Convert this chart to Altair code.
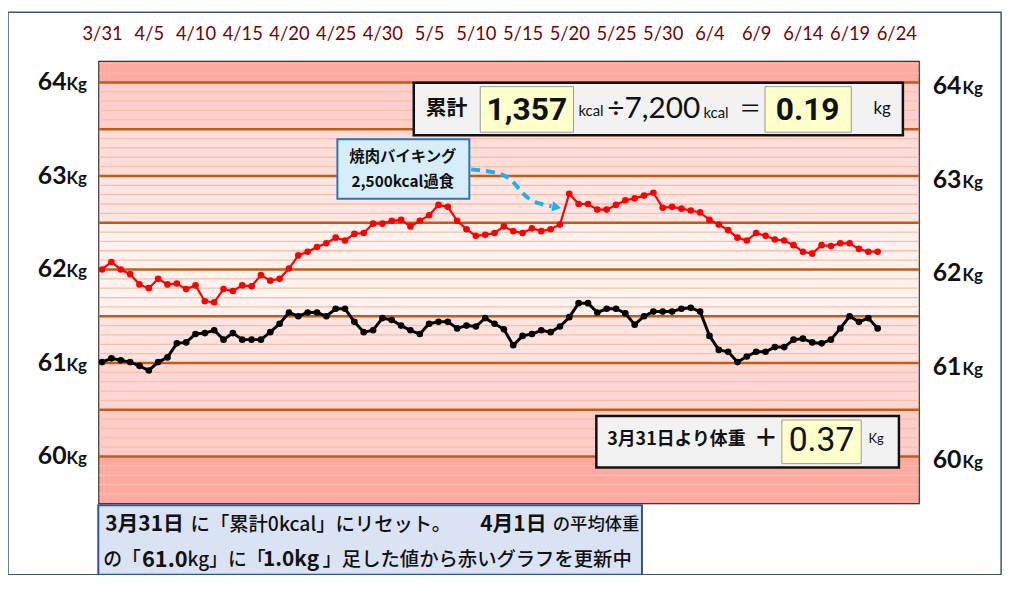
import altair as alt
import pandas as pd
import numpy as np

# ---------------- data ----------------
days = list(range(84))  # 0 = 3/31
red_kg = [62.00, 62.08, 62.00, 61.95, 61.84, 61.80, 61.90, 61.84, 61.85, 61.79,
          61.83, 61.66, 61.65, 61.79, 61.77, 61.83, 61.82, 61.94, 61.88, 61.90,
          62.01, 62.15, 62.19, 62.24, 62.28, 62.34, 62.31, 62.38, 62.39, 62.49,
          62.49, 62.52, 62.53, 62.46, 62.52, 62.58, 62.69, 62.67, 62.52, 62.43,
          62.36, 62.37, 62.39, 62.46, 62.41, 62.39, 62.44, 62.41, 62.43, 62.48,
          62.81, 62.70, 62.70, 62.64, 62.64, 62.69, 62.74, 62.76, 62.79, 62.82,
          62.66, 62.67, 62.65, 62.63, 62.61, 62.53, 62.48, 62.42, 62.34, 62.31,
          62.39, 62.36, 62.32, 62.31, 62.26, 62.19, 62.17, 62.26, 62.25, 62.28,
          62.28, 62.22, 62.19, 62.19]
black_kg = [61.01, 61.05, 61.03, 61.01, 60.97, 60.92, 61.01, 61.06, 61.21, 61.22,
            61.31, 61.32, 61.35, 61.25, 61.32, 61.25, 61.25, 61.25, 61.33, 61.42,
            61.54, 61.50, 61.54, 61.54, 61.50, 61.58, 61.58, 61.44, 61.33, 61.35,
            61.48, 61.46, 61.40, 61.35, 61.31, 61.42, 61.44, 61.44, 61.37, 61.40,
            61.39, 61.48, 61.42, 61.36, 61.19, 61.29, 61.31, 61.35, 61.33, 61.39,
            61.49, 61.64, 61.64, 61.54, 61.58, 61.58, 61.53, 61.41, 61.50, 61.55,
            61.55, 61.55, 61.58, 61.59, 61.55, 61.29, 61.14, 61.12, 61.01, 61.07,
            61.12, 61.12, 61.17, 61.17, 61.25, 61.26, 61.22, 61.21, 61.25, 61.37,
            61.50, 61.44, 61.48, 61.37]
tick_labels = ["3/31", "4/5", "4/10", "4/15", "4/20", "4/25", "4/30", "5/5", "5/10",
               "5/15", "5/20", "5/25", "5/30", "6/4", "6/9", "6/14", "6/19", "6/24"]
tick_days = [i * 5 for i in range(len(tick_labels))]
y_labels = [60, 61, 62, 63, 64]
band_lo = [64.0, 63.5, 63.0, 62.5, 62.0, 61.5, 61.0, 60.5, 60.0, 59.5]
band_hi = [64.22, 64.0, 63.5, 63.0, 62.5, 62.0, 61.5, 61.0, 60.5, 60.0]
band_col = ["#fea9a2", "#fecfcc", "#fedcda", "#ffe6e4", "#fff1ef",
            "#fff1ef", "#fee3e1", "#fed7d4", "#fecdc9", "#fea9a2"]
thick_grid = [60.0, 60.5, 61.0, 61.5, 62.0, 62.5, 63.0, 63.5, 64.0]
thin_grid = [round(v, 1) for v in np.arange(59.6, 64.21, 0.1) if abs(v * 2 - round(v * 2)) > 0.01]
arrow_day = [39.5, 42.4, 43.8, 44.6, 45.5, 46.8, 48.1]
arrow_kg = [63.07, 63.04, 62.97, 62.86, 62.76, 62.70, 62.675]

W, H = 826, 445
XS = alt.Scale(domain=[-0.3, 87.4], nice=False, zero=False)
YS = alt.Scale(domain=[59.5, 64.22], nice=False, zero=False)
FONT = "Lato, Noto Sans CJK JP"
JP = "Noto Sans CJK JP"
NARROW = "Liberation Sans Narrow, Roboto"

df = pd.DataFrame({"day": days, "red": red_kg, "black": black_kg})
bands = pd.DataFrame({"lo": band_lo, "hi": band_hi, "c": band_col})
one = alt.Data(values=[{"a": 1}])

band_layer = alt.Chart(bands).mark_rect().encode(
    x=alt.value(0), x2=alt.value(W),
    y=alt.Y("lo:Q", scale=YS, axis=None), y2="hi:Q",
    color=alt.Color("c:N", scale=None, legend=None))
thin_layer = alt.Chart(pd.DataFrame({"g": thin_grid})).mark_rule(
    color="#f6c0a6", strokeWidth=1.3).encode(
    x=alt.value(0), x2=alt.value(W), y=alt.Y("g:Q", scale=YS, axis=None))
thick_layer = alt.Chart(pd.DataFrame({"g": thick_grid})).mark_rule(
    color="#c55a11", strokeWidth=2.5).encode(
    x=alt.value(0), x2=alt.value(W), y=alt.Y("g:Q", scale=YS, axis=None))

label_expr = "[" + ",".join('"%s"' % t for t in tick_labels) + "][round(datum.value/5)]"
xaxis = alt.Axis(orient="top", values=tick_days, labelExpr=label_expr, domain=False,
                 ticks=False, tickSize=0, grid=False, labelPadding=19, labelFontSize=18.5,
                 labelColor="#780000", labelFont="Lato", title=None, labelFlush=False)

black_layer = alt.Chart(df).mark_line(
    color="black", strokeWidth=3,
    point=alt.OverlayMarkDef(color="black", size=45, filled=True)).encode(
    x=alt.X("day:Q", scale=XS, axis=xaxis), y=alt.Y("black:Q", scale=YS, axis=None))
red_layer = alt.Chart(df).mark_line(
    color="#ff0000", strokeWidth=2.2,
    point=alt.OverlayMarkDef(color="#ff0000", size=45, filled=True)).encode(
    x=alt.X("day:Q", scale=XS), y=alt.Y("red:Q", scale=YS, axis=None))

# y labels (left and right) through the y scale
yl = pd.DataFrame({"v": y_labels, "t": [str(v) for v in y_labels]})
def ylab(xpix, align, field_text, size, dy):
    return alt.Chart(yl).mark_text(align=align, baseline="alphabetic", fontSize=size,
                                   fontWeight="bold", font="Lato", color="#111",
                                   dy=dy).encode(
        x=alt.value(xpix), y=alt.Y("v:Q", scale=YS, axis=None), text=field_text)
ylabels = [
    ylab(-33, "right", "t:N", 25, 8),
    alt.Chart(yl).mark_text(align="left", baseline="alphabetic", fontSize=17,
                            fontWeight="bold", font="Lato", color="#111", dy=8,
                            text="Kg").encode(x=alt.value(-33), y=alt.Y("v:Q", scale=YS, axis=None)),
    ylab(840, "left", "t:N", 25, 12),
    alt.Chart(yl).mark_text(align="left", baseline="alphabetic", fontSize=17,
                            fontWeight="bold", font="Lato", color="#111", dy=12,
                            text="Kg").encode(x=alt.value(870), y=alt.Y("v:Q", scale=YS, axis=None)),
]

def box(x1, y1, x2, y2, fill, stroke, sw):
    return alt.Chart(one).mark_rect(fill=fill, stroke=stroke, strokeWidth=sw).encode(
        x=alt.value(x1), x2=alt.value(x2), y=alt.value(y1), y2=alt.value(y2))

def txt(s, x, y, size, align="center", weight="normal", font=FONT, color="#111", baseline="middle"):
    return alt.Chart(one).mark_text(text=s, fontSize=size, align=align, fontWeight=weight,
                                    font=font, color=color, baseline=baseline).encode(
        x=alt.value(x), y=alt.value(y))

deco = []
# outer frame
deco.append(box(-92, -50, 909, 517, "transparent", "#44546a", 1.5))
# top-right summary box
deco += [
    box(317, 21, 810, 74, "#f2f2f2", "#111", 2.5),
    box(384, 25, 478, 71, "#ffffcc", "#999", 1),
    box(671, 25, 758, 71, "#ffffcc", "#999", 1),
    txt("累計", 350, 48, 21, weight="bold", font=JP),
    txt("1,357", 431, 49, 32, weight="bold", font=NARROW),
    txt("kcal", 483, 55, 15, align="left", baseline="alphabetic"),
    txt("÷7,200", 512, 57, 30, align="left", baseline="alphabetic"),
    txt("kcal", 609, 57, 15, align="left", baseline="alphabetic"),
    txt("＝", 656, 48, 22, font=JP),
    txt("0.19", 714, 49, 32, weight="bold", font=NARROW),
    txt("kg", 789, 48, 17),
]
# annotation box and arrow
arrow = pd.DataFrame({"day": arrow_day, "kg": arrow_kg})
deco += [
    box(240, 78, 373, 138, "#d5eefa", "#2e75b6", 2),
    txt("焼肉バイキング", 306, 96, 15.5, weight="bold", font=JP),
    txt("2,500kcal過食", 306, 121, 15.5, weight="bold", font=JP),
    alt.Chart(arrow).mark_line(interpolate="basis", color="#1fb0f0", strokeWidth=4,
                               strokeDash=[9, 6]).encode(
        x=alt.X("day:Q", scale=XS), y=alt.Y("kg:Q", scale=YS, axis=None), order="day:Q"),
    alt.Chart(pd.DataFrame({"day": [arrow_day[-1] + 0.55], "kg": [arrow_kg[-1] - 0.01]})).mark_point(
        shape="triangle-right", filled=True, size=110, angle=10, color="#1fb0f0", opacity=1).encode(
        x=alt.X("day:Q", scale=XS), y=alt.Y("kg:Q", scale=YS, axis=None)),
]
# bottom-right box
deco += [
    box(501, 357, 806, 409, "#f2f2f2", "#111", 2.5),
    box(688, 361, 768, 405, "#ffffcc", "#999", 1),
    txt("3月31日より体重", 512, 381, 18, align="left", weight="bold", font=JP),
    txt("＋", 672, 380, 24, weight="bold", font=JP),
    txt("0.37", 728, 382, 34, font=NARROW),
    txt("Kg", 783, 380, 13),
]
# bottom-left note box
deco += [
    box(-1, 447, 547, 517, "#dae3f3", "#2f5597", 2),
    txt("3月31日", 6, 467, 21, align="left", weight="bold", font=JP),
    txt("に「累計0kcal」にリセット。", 92, 467, 19.5, align="left", font=JP, weight=500),
    txt("4月1日", 384, 467, 21, align="left", weight="bold", font=JP),
    txt("の平均体重", 457, 467, 17.5, align="left", font=JP, weight=500),
    txt("の「", 4, 502, 19, align="left", font=JP, weight=500),
    txt("61.0", 43, 502, 22, align="left", weight="bold", font=JP),
    txt("kg」に「", 89, 502, 19, align="left", font=JP, weight=500),
    txt("1.0kg", 165, 502, 21, align="left", weight="bold", font=JP),
    txt("」足した値から赤いグラフを更新中", 225, 502, 19.5, align="left", font=JP, weight=500),
]

chart = alt.layer(
    band_layer, thin_layer, thick_layer, black_layer, red_layer, *ylabels, *deco
).properties(
    width=W, height=H,
    padding={"left": 92, "top": 52, "right": 98, "bottom": 70},
    autosize=alt.AutoSizeParams(type="none"),
    background="white",
).configure_view(stroke="#111", strokeWidth=2)

chart.save("out.html", embed_options={"renderer": "svg", "actions": False})
